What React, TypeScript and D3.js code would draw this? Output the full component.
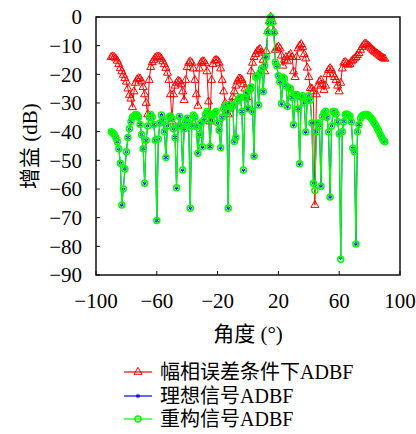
import * as React from 'react'
import * as d3 from 'd3'

// angle grid (deg), one sample per degree
const angles = d3.range(-90, 91, 1)

// gain with amplitude/phase error (dB)
const errorGain = [
  -14, -13.8, -14, -14.5, -15.3, -16.5, -17.9, -19, -20.2, -21.4,
  -22.6, -25, -27.2, -28.5, -31.5, -26, -23, -21.8, -21.4, -21.5,
  -22.5, -24.5, -27, -30, -34, -22, -17.5, -15.8, -15, -14.2,
  -13.9, -13.8, -14, -14.6, -15.5, -16.5, -17.8, -19.5, -22, -27,
  -36.5, -27, -24, -23, -22.3, -22.5, -23.5, -26, -29, -22,
  -17.5, -16, -15.5, -16, -18, -22, -27, -31, -18, -16,
  -15.5, -15.5, -16.2, -19, -29.5, -36.5, -22, -16.5, -15.2, -15,
  -15.2, -16, -18, -22, -26, -30, -33, -34, -32, -30,
  -28, -26, -24, -22.5, -21.5, -21.5, -22, -23.5, -25, -28,
  -32, -25, -19, -16, -14, -13, -12, -11.5, -11.2, -12.5,
  -15, -19, -12, -5, -1.5, 0, -1.5, -5, -11.5, -10.8,
  -10.3, -11, -13.5, -17, -15, -14, -15.5, -13.5, -12.9, -14,
  -19, -21, -14, -11, -10, -9.5, -10.5, -13, -14.5, -17.7,
  -21, -24.8, -25, -26, -65.6, -27, -24, -22.5, -22, -23.5,
  -25.5, -24, -20, -18.5, -17.9, -18.5, -20, -21, -22, -24,
  -26, -23, -18, -16, -15.7, -16.2, -16.7, -16.5, -15.5, -15,
  -14.5, -14, -13.3, -12.6, -11.5, -10.5, -9.8, -9.3, -9.5, -10,
  -10.4, -11, -11.5, -12, -12.4, -12.8, -13.2, -13.6, -14, -14.4,
  -14.6,
]

// ideal signal gain (dB)
const idealGain = [
  -40, -40.5, -41, -42, -43.5, -46, -51, -65.6, -60, -53,
  -47, -42, -39, -36.5, -35, -34.5, -34, -34.2, -35, -37.5,
  -41, -46, -58, -43, -38, -35, -34, -35, -37.5, -43,
  -71, -42.6, -37, -34.2, -36, -40, -49, -38, -35, -34.5,
  -35.5, -39, -42, -59.6, -38, -34.7, -38, -53.4, -39, -36.5,
  -35.3, -37, -66.7, -38, -34.2, -35, -38.2, -47.5, -41, -37,
  -45.3, -36, -34, -33, -33.5, -45.2, -36, -34.2, -33.5, -33,
  -37, -39.5, -45.6, -35, -32, -31, -33, -66.7, -30.5, -31.5,
  -31, -43.4, -42, -29.3, -28.5, -28, -33, -53.4, -28, -26.7,
  -32, -25.5, -24.4, -33, -48.6, -21, -20.5, -30.7, -19.4, -18,
  -26, -17, -14, -5.3, -1.9, 0, -1.9, -5.3, -15.8, -17,
  -20.5, -22.6, -30.2, -21, -21.5, -24, -31.2, -24.7, -25, -28,
  -37.6, -27, -27, -32, -51.2, -28, -27.5, -30, -40.1, -29,
  -27.5, -29, -37, -58, -58.5, -40, -37, -38, -59, -34.7,
  -33.5, -32.9, -35, -40.1, -62.8, -38, -33, -33, -33.8, -36.5,
  -40.8, -84, -40, -36.5, -34, -33.8, -34.2, -34.5, -36.5, -45.8,
  -47, -79.2, -40, -37.6, -35.3, -34.5, -34.2, -34, -34, -34.2,
  -34.8, -35.3, -36, -37, -37.8, -38.8, -39.8, -41, -42, -43,
  -43.5,
]

// reconstructed signal gain (dB)
const reconGain = [
  -40, -40.5, -41, -42, -43.5, -46, -51, -65.6, -60, -53,
  -47, -42, -39, -36.5, -35, -34.5, -34, -34.2, -35, -37.5,
  -41, -46, -58, -43, -38, -35, -34, -35, -37.5, -43,
  -71, -42.6, -37, -34.2, -36, -40, -49, -38, -35, -34.5,
  -35.5, -39, -42, -59.6, -38, -34.7, -38, -53.4, -39, -36.5,
  -35.3, -37, -66.7, -38, -34.2, -35, -38.2, -47.5, -41, -37,
  -45.3, -36, -34, -33, -33.5, -45.2, -36, -34.2, -33.5, -33,
  -37, -39.5, -45.6, -35, -32, -31, -33, -66.7, -30.5, -31.5,
  -31, -43.4, -42, -29.3, -28.5, -28, -33, -53.4, -28, -26.7,
  -32, -25.5, -24.4, -33, -48.6, -21, -20.5, -30.7, -19.4, -18,
  -26, -17, -14, -5.3, -1.9, 0, -1.9, -5.3, -15.8, -17,
  -20.5, -22.6, -30.2, -21, -21.5, -24, -31.2, -24.7, -25, -28,
  -37.6, -27, -27, -32, -51.2, -28, -27.5, -30, -40.1, -29,
  -27.5, -29, -37, -58, -60.5, -40, -37, -38, -59, -34.7,
  -33.5, -32.9, -35, -40.1, -62.8, -38, -33, -33, -33.8, -36.5,
  -40.8, -84.5, -40, -36.5, -34, -33.8, -34.2, -34.5, -36.5, -45.8,
  -47, -79.2, -40, -37.6, -35.3, -34.5, -34.2, -34, -34, -34.2,
  -34.8, -35.3, -36, -37, -37.8, -38.8, -39.8, -41, -42, -43,
  -43.5,
]

const xTicks = [-100, -60, -20, 20, 60, 100]
const yTicks = [0, -10, -20, -30, -40, -50, -60, -70, -80, -90]
const legendLabels = ['幅相误差条件下ADBF', '理想信号ADBF', '重构信号ADBF']

const W = 416
const H = 434
const left = 96
const right = 400
const top = 17
const bottom = 275
const font = "'Liberation Serif', 'DejaVu Serif', 'Noto Sans CJK SC', serif"

const RED = '#ff0000'
const BLUE = '#0000ff'
const GREEN = '#00ff00'

export default function App() {
  const x = d3.scaleLinear().domain([-100, 100]).range([left, right])
  const y = d3.scaleLinear().domain([-90, 0]).range([bottom, top])
  const fmt = d3.format('d')

  const line = d3
    .line<number>()
    .x((d, i) => x(angles[i]))
    .y((d) => y(d))

  const tri = d3.symbol().type(d3.symbolTriangle).size(28)()
  const star = d3.symbol().type(d3.symbolAsterisk).size(14)()

  const redMarks = errorGain.map((v, i) => (
    <path key={i} d={tri} transform={`translate(${x(angles[i])},${y(v)})`} fill="none" stroke={RED} strokeWidth={1} />
  ))
  const blueMarks = idealGain.map((v, i) => (
    <path key={i} d={star} transform={`translate(${x(angles[i])},${y(v)})`} fill="none" stroke={BLUE} strokeWidth={1} />
  ))
  const greenMarks = reconGain.map((v, i) => (
    <circle key={i} cx={x(angles[i])} cy={y(v)} r={3} fill="none" stroke={GREEN} strokeWidth={1.5} />
  ))

  const legendY = [372, 396, 419]
  const legendColors = [RED, BLUE, GREEN]
  const txt = { fontFamily: font }

  return (
    <svg width={W} height={H} style={{ position: 'absolute', left: 0, top: 0, background: '#fff' }}>
      <rect x={0} y={0} width={W} height={H} fill="#fff" />

      {/* series */}
      <path d={line(errorGain) || ''} fill="none" stroke={RED} strokeWidth={1} />
      {redMarks}
      <path d={line(idealGain) || ''} fill="none" stroke={BLUE} strokeWidth={1} />
      {blueMarks}
      <path d={line(reconGain) || ''} fill="none" stroke={GREEN} strokeWidth={1.2} />
      {greenMarks}

      {/* frame and ticks */}
      <rect x={left} y={top} width={right - left} height={bottom - top} fill="none" stroke="#111" strokeWidth={1.5} />
      {yTicks.map((t) => (
        <g key={t}>
          <line x1={left} x2={left + 4} y1={y(t)} y2={y(t)} stroke="#111" strokeWidth={1} />
          <text x={82} y={y(t)} dy="0.35em" textAnchor="end" fontSize={21} style={txt}>
            {fmt(t)}
          </text>
        </g>
      ))}
      {xTicks.map((t) => (
        <g key={t}>
          <line x1={x(t)} x2={x(t)} y1={bottom} y2={bottom - 4} stroke="#111" strokeWidth={1} />
          <text x={x(t)} y={308} textAnchor="middle" fontSize={21} style={txt}>
            {fmt(t)}
          </text>
        </g>
      ))}

      {/* axis titles */}
      <text x={(left + right) / 2} y={341} textAnchor="middle" fontSize={21} style={txt}>
        角度 (°)
      </text>
      <text transform={`translate(37,${(top + bottom) / 2}) rotate(-90)`} textAnchor="middle" fontSize={21} style={txt}>
        增益 (dB)
      </text>

      {/* legend */}
      {legendLabels.map((lab, i) => (
        <g key={lab} transform={`translate(0,${legendY[i]})`}>
          <line x1={124} x2={152} y1={0} y2={0} stroke={legendColors[i]} strokeWidth={1.2} />
          {i === 0 && <path d={tri} transform="translate(138,0)" fill="none" stroke={RED} />}
          {i === 1 && <path d={star} transform="translate(138,0)" fill="none" stroke={BLUE} />}
          {i === 2 && <circle cx={138} cy={0} r={3} fill="none" stroke={GREEN} strokeWidth={1.5} />}
          <text x={160} y={0} dy="0.35em" fontSize={20} style={txt}>
            {lab}
          </text>
        </g>
      ))}
    </svg>
  )
}
